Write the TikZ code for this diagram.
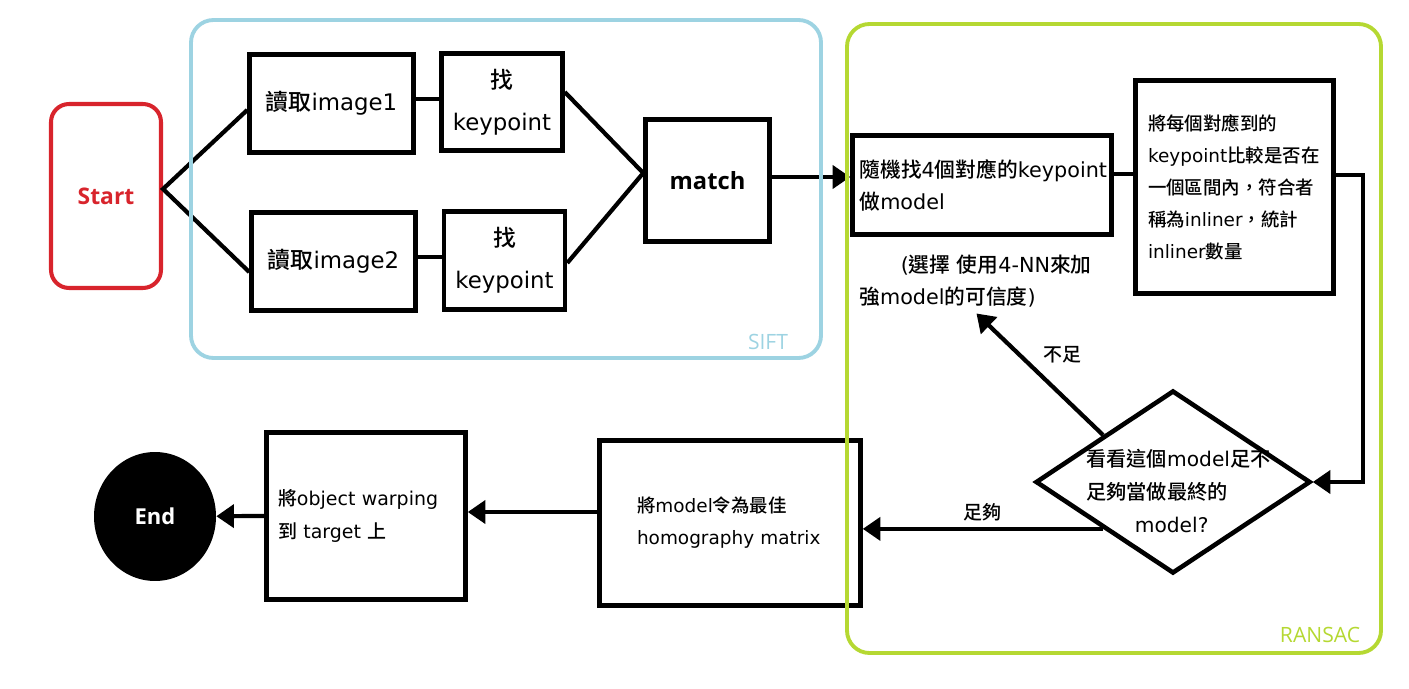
\documentclass[tikz,border=0pt]{standalone}
\usepackage{fontspec}
\setmainfont{DejaVu Sans}
\newfontfamily\cjk{Noto Sans CJK TC}[UprightFont={* Medium}]
\newfontfamily\headfont{Open Sans}
\usetikzlibrary{arrows.meta}
\usetikzlibrary{shapes.geometric}

% Han characters switch to the CJK family
\XeTeXinterchartokenstate=1
\newXeTeXintercharclass\hanclass
\count255=32
\loop
  \XeTeXcharclass\count255=0
  \ifnum\count255<126 \advance\count255 by 1
\repeat
\count255="4E00
\loop
  \XeTeXcharclass\count255=\hanclass
  \ifnum\count255<"9FFF \advance\count255 by 1
\repeat
\XeTeXcharclass"FF0C=\hanclass
\XeTeXinterchartoks 0 \hanclass = {\begingroup\cjk}
\XeTeXinterchartoks 4095 \hanclass = {\begingroup\cjk}
\XeTeXinterchartoks \hanclass 0 = {\endgroup}
\XeTeXinterchartoks \hanclass 4095 = {\endgroup}

\definecolor{startred}{RGB}{216,36,44}
\definecolor{siftblue}{RGB}{157,211,226}
\definecolor{ransacgreen}{RGB}{181,216,50}

\begin{document}
\begin{tikzpicture}[
    x=0.02cm, y=-0.02cm,
    box/.style={draw, line width=2.6pt, inner sep=0pt, align=center},
    start node/.style={draw=startred, line width=2.3pt, rounded corners=0.36cm, text=startred,
        minimum width=2.2cm, minimum height=3.68cm, font=\headfont\bfseries\fontsize{13}{15}\selectfont},
    end node/.style={ellipse, fill=black, text=white, minimum width=2.44cm, minimum height=2.58cm,
        font=\headfont\bfseries\fontsize{12.5}{15}\selectfont},
    decision/.style={diamond, draw, line width=2.6pt, inner sep=0pt, minimum width=5.5cm, minimum height=3.66cm},
    link/.style={line width=2.4pt},
    flow/.style={line width=2.4pt, -{Triangle[length=10pt, width=13pt]}},
    group/.style={line width=2.2pt, rounded corners=0.45cm},
    group label/.style={font=\headfont\fontsize{12}{14}\selectfont},
    edge label/.style={font=\fontsize{10.8}{13}\selectfont}
]
    \useasboundingbox (0,0) rectangle (1409,689);

    \node[start node] (start) at (106,196) {Start};
    \node[box, minimum width=3.28cm, minimum height=1.96cm, font=\fontsize{13}{24}\selectfont] (read1) at (331.5,103.5) {讀取image1};
    \node[box, minimum width=2.42cm, minimum height=1.94cm, font=\fontsize{13}{24}\selectfont] (find1) at (502,102) {找\\keypoint};
    \node[box, minimum width=3.28cm, minimum height=1.96cm, font=\fontsize{13}{24}\selectfont] (read2) at (333.5,261.5) {讀取image2};
    \node[box, minimum width=2.42cm, minimum height=1.96cm, font=\fontsize{13}{24}\selectfont] (find2) at (504.5,260.5) {找\\keypoint};
    \node[box, minimum width=2.48cm, minimum height=2.44cm, font=\headfont\bfseries\fontsize{13.5}{15}\selectfont] (match) at (707.5,180.5) {match};

    \node[box, minimum width=5.18cm, minimum height=1.98cm, text width=4.9cm, align=left,
        font=\fontsize{11.8}{18.2}\selectfont] (pick) at (982,185) {隨機找4個對應的keypoint\\做model};
    \node[anchor=west, inner sep=0pt, align=left, font=\fontsize{11.8}{18.2}\selectfont] (note) at (859,281)
        {\hspace*{2em}(選擇 使用4-NN來加\\強model的可信度)};
    \node[box, minimum width=3.96cm, minimum height=4.26cm, text width=3.46cm, align=left,
        font=\fontsize{10.5}{18.2}\selectfont] (count) at (1234.5,187)
        {將每個對應到的\\keypoint比較是否在\\一個區間內，符合者\\稱為inliner，統計\\inliner數量};
    \node[decision] (check) at (1173,482) {};
    \node[anchor=west, inner sep=0pt, align=left, font=\fontsize{11.5}{18.8}\selectfont] (checktext) at (1086,491)
        {看看這個model足不\\足夠當做最終的\\\hspace*{2.4em}model?};
    \node[box, minimum width=5.22cm, minimum height=3.3cm, text width=3.72cm, align=left,
        font=\fontsize{10.5}{18.2}\selectfont] (best) at (730,523) {將model令為最佳\\homography matrix};
    \node[box, minimum width=3.98cm, minimum height=3.34cm, text width=3.52cm, align=left,
        font=\fontsize{10.8}{18.8}\selectfont] (warp) at (366,516) {將object warping\\到 target 上};
    \node[end node] (end) at (155,516.5) {End};

    \draw[link] ([yshift=-0.13cm]read1.west) -- ([yshift=0.14cm]start.east) -- ([yshift=-0.21cm]read2.west);
    \draw[link] ([yshift=0.09cm]read1.east) -- ([yshift=0.09cm]read1.east -| find1.west);
    \draw[link] ([yshift=0.09cm]read2.east) -- ([yshift=0.09cm]read2.east -| find2.west);
    \draw[link] ([yshift=0.2cm]find1.east) -- ([yshift=0.15cm]match.west) -- ([yshift=-0.05cm]find2.east);
    \draw[flow] ([yshift=0.07cm]match.east) -- ([yshift=0.07cm]match.east -| pick.west);
    \draw[link] ([yshift=0.22cm]pick.east) -- ([yshift=0.22cm]pick.east -| count.west);
    \draw[flow] ([yshift=0.24cm]count.east) -- ++(0.54cm,0) |- (check.east);
    \draw[flow] (check.north west) -- ([xshift=0.02cm, yshift=-0.12cm]note.south) node[edge label, pos=0.53, above right] {不足};
    \draw[flow] (check.south west) -- (check.south west -| best.east) node[edge label, midway, above] {足夠};
    \draw[flow] ([yshift=0.22cm]best.west) -- ([yshift=0.22cm]best.west -| warp.east);
    \draw[flow] (warp.west) -- (end);

    \draw[group, draw=siftblue] (191,20) rectangle (821,358);
    \node[group label, text=siftblue] (siftlabel) at (768,342) {SIFT};
    \draw[group, draw=ransacgreen] (847,24) rectangle (1381,653);
    \node[group label, text=ransacgreen] (ransaclabel) at (1320,635) {RANSAC};
\end{tikzpicture}
\end{document}
